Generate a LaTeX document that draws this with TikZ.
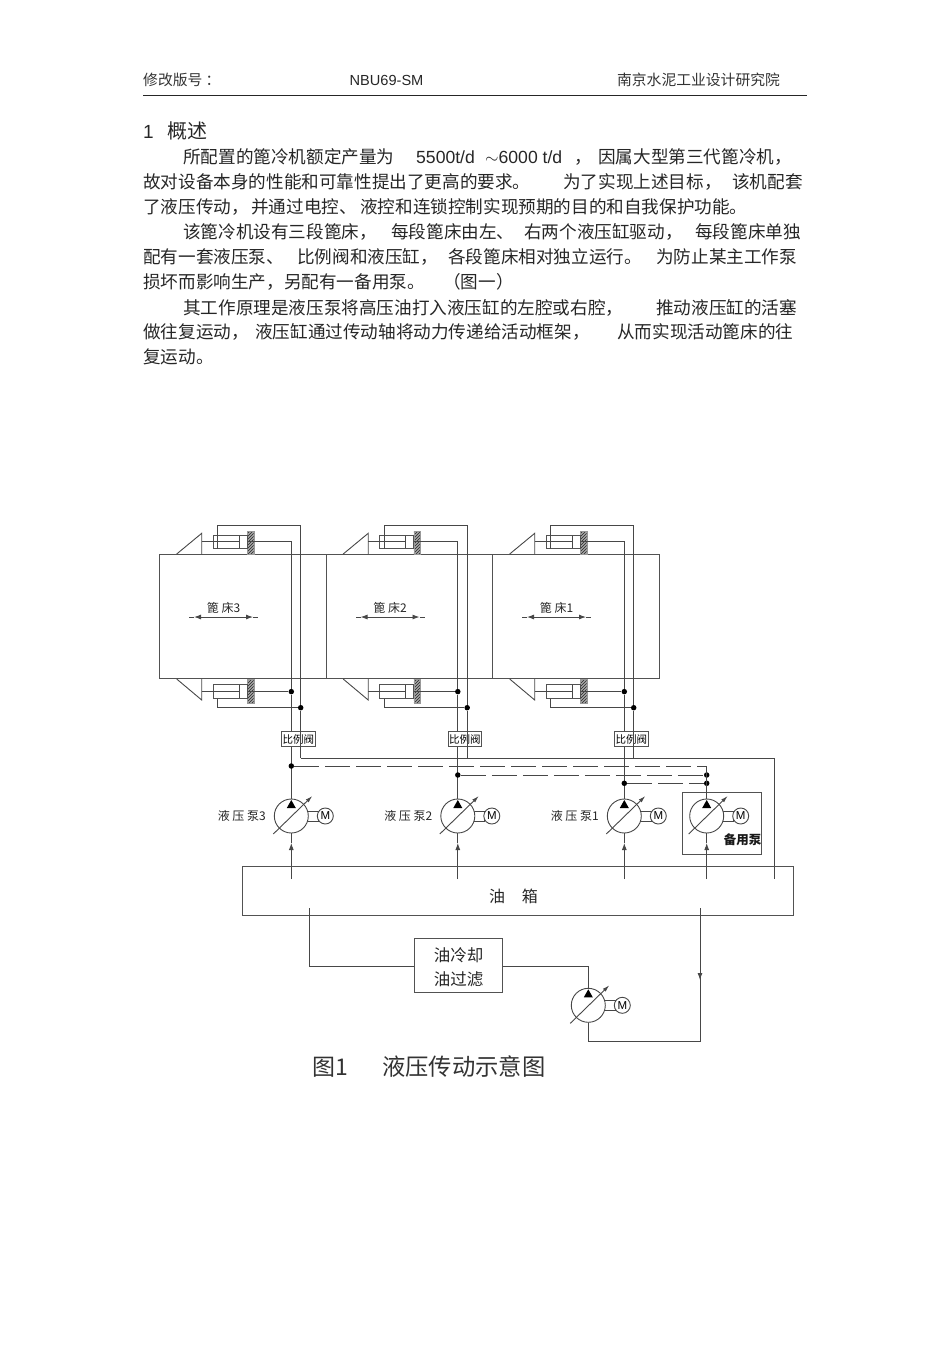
\documentclass[tikz,border=0pt]{standalone}
\usepackage{fontspec}
\usetikzlibrary{arrows.meta,patterns}
\setmainfont{Liberation Sans}
\newfontfamily\cjk{Noto Sans CJK SC}

\begin{document}
\begin{tikzpicture}[x=1pt,y=-1pt,every node/.style={align=center}]
  \tikzset{
    pipe/.style={draw=black!72,line width=.9pt},
    thinbox/.style={draw=black!68,line width=1pt,rectangle,inner sep=0pt},
    dot/.style={circle,fill=black,inner sep=0pt,minimum size=5.5pt},
    flow/.style={pipe,-{Latex[length=7pt,width=5pt]}},
    dashpipe/.style={pipe,dash pattern=on 25pt off 6pt}, % Return lines to spare pump
    wallhatch/.style={rectangle,draw=black!40,preaction={fill=black!35},pattern=north east lines,pattern color=black!85,inner sep=0pt,minimum width=6.4pt},
    bodytext/.style={anchor=base west,inner sep=0pt,text=black!85,font=\cjk\fontsize{17.6}{20}\selectfont},
    bodylatin/.style={anchor=base west,inner sep=0pt,text=black!85,font=\fontsize{17.6}{20}\selectfont},
    headtext/.style={inner sep=0pt,text=black!80,font=\cjk\fontsize{14.8}{17}\selectfont},
    figtext/.style={inner sep=0pt,text=black!85,font=\cjk\fontsize{12}{14}\selectfont},
    pumpunit/.pic={
      \draw[pipe] (15,-5) rectangle (27,5); % Shaft to motor
      \node[circle,draw=black!72,line width=.9pt,fill=white,minimum size=34pt,inner sep=0pt] (-c) at (0,0) {};
      \node[circle,draw=black!72,line width=.9pt,fill=white,minimum size=16pt,inner sep=0pt,font=\fontsize{11.5}{12}\selectfont] (-m) at (34,0) {M};
      \fill[black] (0,-16) -- (-4.5,-8) -- (4.5,-8) -- cycle;
      \draw[pipe,-{Latex[length=7pt,width=4pt]}] (-18,18) -- (21,-20);
    }
  }
  \useasboundingbox (0,0) rectangle (950,1345);

  % Header
  \node[headtext,anchor=west] (hdleft) at (143,80) {修改版号 ：};
  \node[inner sep=0pt,text=black!85,font=\fontsize{14.6}{17}\selectfont] (hdmid) at (386.5,80) {NBU69-SM};
  \node[headtext] (hdright) at (698.5,80) {南京水泥工业设计研究院};
  \coordinate (hdlineL) at (143,95);
  \coordinate (hdlineR) at (807,95);
  \draw[black!85,line width=.9pt] (hdlineL) -- (hdlineR);

  % Body text
  \node[bodylatin,font=\fontsize{19}{22}\selectfont] (secnum) at (143,138) {1};
  \node[bodytext,font=\cjk\fontsize{20}{22}\selectfont] (sectitle) at (167,138) {概述};
  \node[bodylatin] (lat1) at (416,163) {5500t/d};
  \node[bodylatin] (lat2) at (485,163) {$\sim$6000 t/d};
  \foreach \tag/\px/\py/\txt in {
    a/183/163/所配置的篦冷机额定产量为,
    b/574/163/，,
    c/598/163/因属大型第三代篦冷机，,
    d/143/188/故对设备本身的性能和可靠性提出了更高的要求。,
    e/563/188/为了实现上述目标，,
    f/732/188/该机配套,
    g/143/213/了液压传动，,
    x/251/213/并通过电控、,
    y/360/213/液控和连锁控制实现预期的目的和自我保护功能。,
    h/183/238/该篦冷机设有三段篦床，,
    i/391/238/每段篦床由左、,
    j/524/238/右两个液压缸驱动，,
    k/695/238/每段篦床单独,
    l/143/263/配有一套液压泵、,
    m/297/263/比例阀和液压缸，,
    n/448/263/各段篦床相对独立运行。,
    o/656/263/为防止某主工作泵,
    p/143/288/损坏而影响生产，另配有一备用泵。,
    q/443/288/（图一）,
    r/183/314/其工作原理是液压泵将高压油打入液压缸的左腔或右腔，,
    s/656/314/推动液压缸的活塞,
    t/143/338/做往复运动，,
    u/255/338/液压缸通过传动轴将动力传递给活动框架，,
    v/617/338/从而实现活动篦床的往,
    w/143/363/复运动。}
    {\node[bodytext] (body\tag) at (\px,\py) {\txt};}

  % Beds, cylinders and valves
  \foreach \n/\dx in {3/0,2/166.5,1/333}{
    \node[thinbox,minimum width=166.5pt,minimum height=124.7pt] (bed\n) at (243+\dx,616.5) {};
    \node[figtext] (bedlabel\n) at (223.5+\dx,608) {篦 床\n};
    \coordinate (bedL\n) at (189+\dx,617);
    \coordinate (bedLt\n) at (194+\dx,617);
    \coordinate (bedC\n) at (223.5+\dx,617);
    \coordinate (bedRt\n) at (253+\dx,617);
    \coordinate (bedR\n) at (258+\dx,617);
    \draw[flow] (bedC\n) -- (bedLt\n);
    \draw[flow] (bedC\n) -- (bedRt\n);
    \draw[pipe] (bedLt\n) -- (bedL\n);
    \draw[pipe] (bedRt\n) -- (bedR\n);

    % Upper cylinder
    \node[wallhatch,minimum height=23pt] (wallT\n) at (250.5+\dx,542.5) {};
    \node[thinbox,minimum width=33.7pt,minimum height=12.4pt] (cylT\n) at (230.2+\dx,541.9) {};
    \draw[pipe] (176.7+\dx,554) -- (201.7+\dx,533.3) -- (201.7+\dx,554);
    \draw[pipe] (201.7+\dx,541.9) -- (239+\dx,541.9);
    \draw[pipe] (239+\dx,535.7) -- (239+\dx,548.1);

    % Lower cylinder
    \node[wallhatch,minimum height=23.4pt] (wallB\n) at (250.5+\dx,691) {};
    \node[thinbox,minimum width=33.7pt,minimum height=13.3pt] (cylB\n) at (230.2+\dx,691.6) {};
    \draw[pipe] (176.7+\dx,679) -- (201.7+\dx,700) -- (201.7+\dx,679);
    \draw[pipe] (201.7+\dx,691.6) -- (239+\dx,691.6);
    \draw[pipe] (239+\dx,685) -- (239+\dx,698.2);

    % Valve and the two lines through it
    \node[thinbox,minimum width=33.5pt,minimum height=15.3pt,font=\cjk\fontsize{10.5}{12}\selectfont,text=black] (valve\n) at (298.3+\dx,739.3) {比例阀};
    \coordinate (loopT\n) at (217.7+\dx,525);
    \coordinate (outerT\n) at (300.7+\dx,525);
    \coordinate (loopB\n) at (217.7+\dx,707.7);
    \node[dot] (outerB\n) at (300.7+\dx,707.7) {};
    \coordinate (outerEnd\n) at (300.7+\dx,758.3);
    \coordinate (innerT\n) at (291.3+\dx,541.9);
    \node[dot] (innerB\n) at (291.3+\dx,691.6) {};
    \draw[pipe] (cylT\n.south -| loopT\n) -- (loopT\n) -- (outerT\n) -- (outerB\n) -- (outerEnd\n);
    \draw[pipe] (cylB\n.south -| loopB\n) -- (loopB\n) -- (outerB\n);
    \draw[pipe] (cylT\n.east) -- (innerT\n) -- (innerB\n) -- (valve\n.north -| innerB\n);
    \draw[pipe] (cylB\n.east) -- (innerB\n);

    % Pump under the valve
    \pic (pump\n) at (291.3+\dx,816) {pumpunit};
    \node[figtext] (pumplabel\n) at (241.8+\dx,816) {液 压 泵\n};
    \draw[pipe] (valve\n.south -| innerB\n) -- (pump\n-c.north);
    \coordinate (in\n) at (291.3+\dx,879);
    \coordinate (tip\n) at (291.3+\dx,843);
    \draw[flow] (in\n) -- (tip\n);
    \draw[pipe] (tip\n) -- (pump\n-c.south);
  }

  % Spare pump
  \node[thinbox,minimum width=79pt,minimum height=62.7pt] (sparebox) at (722.2,823.6) {};
  \pic (pumpS) at (706.7,816) {pumpunit};
  \node[figtext,font=\cjk\bfseries\fontsize{12.5}{15}\selectfont,text=black!90] (sparelabel) at (742.5,839.5) {备用泵};
  \coordinate (inS) at (706.7,879);
  \coordinate (tipS) at (706.7,843);
  \draw[flow] (inS) -- (tipS);
  \draw[pipe] (tipS) -- (pumpS-c.south);

  % Return and cross lines
  \coordinate (retT) at (774,758.3);
  \coordinate (retB) at (774,879);
  \draw[pipe] (outerEnd3) -- (retT) -- (retB);
  \node[dot] (dash3) at (291.3,766) {};
  \node[dot] (dash2) at (457.8,775) {};
  \node[dot] (dash1) at (624.3,783.3) {};
  \coordinate (dashS3) at (706.7,766);
  \node[dot] (dashS2) at (706.7,775) {};
  \node[dot] (dashS1) at (706.7,783.3) {};
  \draw[dashpipe] (dash3) -- (dashS3);
  \draw[dashpipe] (dash2) -- (dashS2);
  \draw[dashpipe] (dash1) -- (dashS1);
  \draw[pipe] (dashS3) -- (pumpS-c.north);

  % Tank and cooling loop
  \node[thinbox,minimum width=550.5pt,minimum height=49pt] (tank) at (518,891.3) {};
  \node[inner sep=0pt,font=\cjk\fontsize{16}{18}\selectfont,text=black!85] (tanklabel) at (513.5,896) {油\hspace{17pt}箱};
  \node[thinbox,minimum width=87.6pt,minimum height=54pt] (filter) at (458.5,965.7) {};
  \node[inner sep=0pt,font=\cjk\fontsize{16.5}{24}\selectfont,text=black!85] (filterlabel) at (458.5,967.5) {油冷却\\油过滤};
  \pic (pumpC) at (588.3,1005.3) {pumpunit};
  \coordinate (tankL) at (309.3,908);
  \coordinate (loopL) at (309.3,966);
  \coordinate (loopR) at (588.3,966);
  \coordinate (loopC) at (588.3,1041);
  \coordinate (loopE) at (700,1041);
  \coordinate (tankR) at (700,908);
  \coordinate (tipC) at (700,980);
  \draw[pipe] (tankL) -- (loopL) -- (filter.west |- loopL);
  \draw[pipe] (filter.east |- loopR) -- (loopR) -- (pumpC-c.north);
  \draw[pipe] (pumpC-c.south) -- (loopC) -- (loopE) -- (tankR);
  \draw[flow] (tankR) -- (tipC);

  % Caption
  \node[inner sep=0pt,text=black!80,font=\cjk\fontsize{23}{26}\selectfont,anchor=west] (capnum) at (312,1067) {图1};
  \node[inner sep=0pt,text=black!80,font=\cjk\fontsize{23.3}{26}\selectfont,anchor=west] (captitle) at (382,1067) {液压传动示意图};
\end{tikzpicture}
\end{document}
